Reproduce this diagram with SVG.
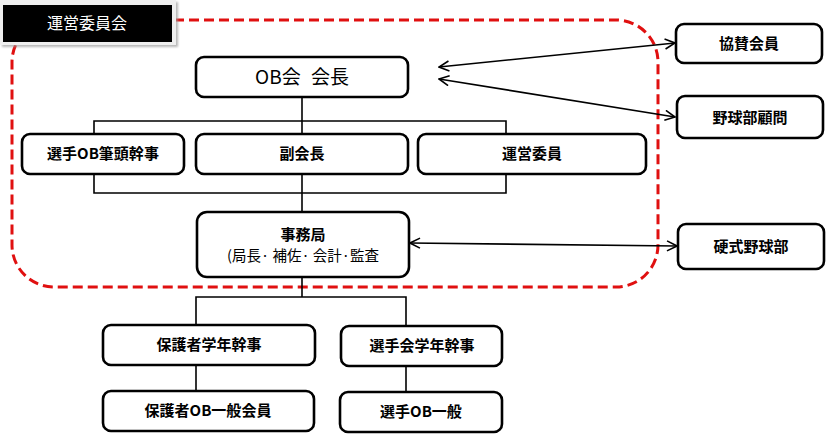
<svg xmlns="http://www.w3.org/2000/svg" width="827" height="439" viewBox="0 0 827 439">
<defs>
<marker id="arr" viewBox="0 0 12 12" refX="11" refY="6" markerWidth="12" markerHeight="12" markerUnits="userSpaceOnUse" orient="auto-start-reverse">
<path d="M1,1 L11,6 L1,11" fill="none" stroke="#000" stroke-width="1.6"/>
</marker>
<filter id="sh" x="-5%" y="-10%" width="115%" height="130%">
<feDropShadow dx="2" dy="2" stdDeviation="1" flood-color="#999" flood-opacity="0.7"/>
</filter>
</defs>
<style>
.box{fill:#fff;stroke:#000;stroke-width:2.6}
.ln{fill:none;stroke:#000;stroke-width:1.6}
.ar{fill:none;stroke:#000;stroke-width:1.6}
.t{font-family:"Noto Sans CJK JP","Liberation Sans",sans-serif;font-weight:bold;font-size:15px;text-anchor:middle;fill:#000}
.n{font-family:"Noto Sans CJK JP","Liberation Sans",sans-serif;font-weight:normal;text-anchor:middle;fill:#000}
</style>
<rect width="827" height="439" fill="#fff"/>

<g id="committee-frame">
<rect x="12" y="20" width="646" height="267" rx="42" ry="42" fill="none" stroke="#e01010" stroke-width="3" stroke-dasharray="10,5"/>
</g>

<g id="connectors">
<line class="ln" x1="302" y1="97" x2="302" y2="212"/>
<polyline class="ln" points="94,134 94,121 506,121 506,134"/>
<polyline class="ln" points="94,174 94,193 506,193 506,174"/>
<line class="ln" x1="302" y1="277" x2="302" y2="297"/>
<polyline class="ln" points="196,325 196,297 406,297 406,326"/>
<line class="ln" x1="196" y1="365" x2="196" y2="391"/>
<line class="ln" x1="406" y1="366" x2="406" y2="392"/>
<line class="ar" x1="439" y1="67" x2="675" y2="43" marker-start="url(#arr)" marker-end="url(#arr)"/>
<line class="ar" x1="439" y1="79" x2="675" y2="117" marker-start="url(#arr)" marker-end="url(#arr)"/>
<line class="ar" x1="410" y1="243" x2="677" y2="246" marker-start="url(#arr)" marker-end="url(#arr)"/>
</g>

<g id="label-committee">
<rect x="0" y="0" width="176" height="45" fill="#efefef" filter="url(#sh)"/>
<rect x="3" y="5" width="169" height="37" fill="#000"/>
<text class="n" x="87" y="29" font-size="16" style="fill:#fff">運営委員会</text>
</g>

<g id="ob-president">
<rect class="box" x="196" y="57" width="212" height="40" rx="8"/>
<text class="n" x="302" y="84" font-size="19" word-spacing="6">OB会 会長</text>
</g>

<g id="player-ob-head">
<rect class="box" x="22" y="134" width="162" height="40" rx="8"/>
<text class="t" x="103" y="159">選手OB筆頭幹事</text>
</g>

<g id="vice-president">
<rect class="box" x="196" y="134" width="212" height="40" rx="8"/>
<text class="t" x="302" y="159">副会長</text>
</g>

<g id="committee-member">
<rect class="box" x="418" y="134" width="228" height="40" rx="8"/>
<text class="t" x="532" y="159">運営委員</text>
</g>

<g id="secretariat">
<rect class="box" x="197" y="212" width="212" height="65" rx="10"/>
<text class="t" x="303" y="240" font-size="17">事務局</text>
<text class="n" x="303" y="261" font-size="14.5">(局長· 補佐· 会計·監査</text>
</g>

<g id="parent-grade">
<rect class="box" x="103" y="325" width="212" height="40" rx="8"/>
<text class="t" x="209" y="350">保護者学年幹事</text>
</g>

<g id="player-grade">
<rect class="box" x="341" y="326" width="161" height="40" rx="8"/>
<text class="t" x="422" y="351">選手会学年幹事</text>
</g>

<g id="parent-ob-general">
<rect class="box" x="103" y="391" width="211" height="40" rx="8"/>
<text class="t" x="208" y="416" font-size="14">保護者OB一般会員</text>
</g>

<g id="player-ob-general">
<rect class="box" x="340" y="392" width="162" height="40" rx="8"/>
<text class="t" x="421" y="417">選手OB一般</text>
</g>

<g id="sponsor">
<rect class="box" x="676" y="24" width="146" height="39" rx="8"/>
<text class="t" x="749" y="49">協賛会員</text>
</g>

<g id="advisor">
<rect class="box" x="677" y="96" width="146" height="42" rx="8"/>
<text class="t" x="750" y="123" font-size="16.5">野球部顧問</text>
</g>

<g id="baseball-club">
<rect class="box" x="678" y="224" width="146" height="45" rx="8"/>
<text class="t" x="751" y="252">硬式野球部</text>
</g>
</svg>
